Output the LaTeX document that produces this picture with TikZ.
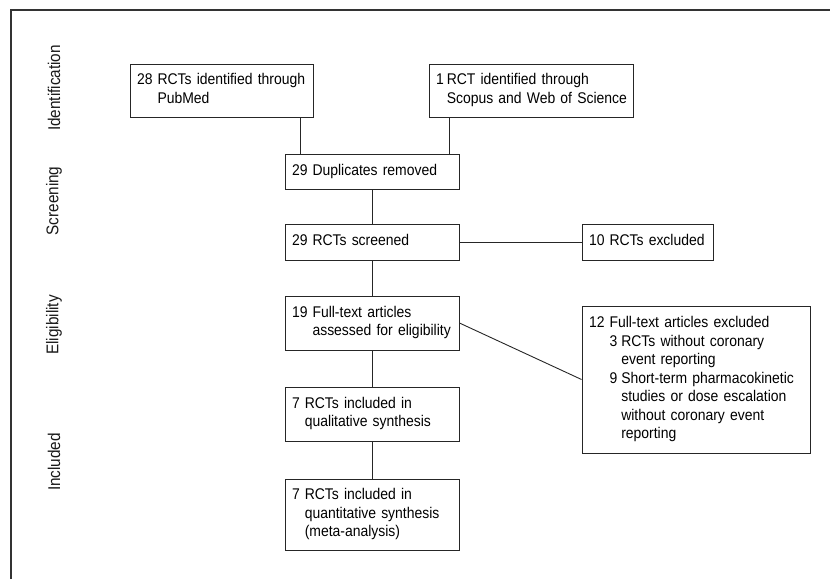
\documentclass[tikz,border=0pt]{standalone}
\usepackage{fontspec}
\setmainfont[FakeStretch=0.9]{Liberation Sans}
\begin{document}
\begin{tikzpicture}[x=1pt,y=-1pt,
  box/.style={draw=black!85, line width=0.9pt, inner xsep=7pt, inner ysep=3pt, align=left, anchor=center,
    font=\fontsize{15.5}{18.5}\selectfont, text=black},
  conn/.style={draw=black!85, line width=0.9pt},
  phase/.style={rotate=90, font=\fontsize{17}{20}\selectfont, text=black!90, anchor=center}]
\useasboundingbox (0,0) rectangle (830,579);
\draw[line width=1.2pt, black!80] (11,579) -- (11,10) -- (830,10);

\node[phase] (pid) at (54,88) {Identification};
\node[phase] (psc) at (54,201) {Screening};
\node[phase] (pel) at (54,325) {Eligibility};
\node[phase] (pin) at (54,462) {Included};

\node[box, text width=169pt, minimum height=53pt] (a) at (221.5,90.5)
  {\begin{tabular}{@{}l@{\hspace{5pt}}l@{}}28 & RCTs identified through\\ & PubMed\end{tabular}};
\node[box, text width=190pt, minimum height=53pt] (b) at (531,90.5)
  {\begin{tabular}{@{}l@{\hspace{3pt}}l@{}}1 & RCT identified through\\ & Scopus and Web of Science\end{tabular}};
\node[box, text width=160pt, minimum height=35pt] (c) at (372,171.5)
  {\begin{tabular}{@{}l@{\hspace{5pt}}l@{}}29 & Duplicates removed\end{tabular}};
\node[box, text width=160pt, minimum height=36pt] (d) at (372,242)
  {\begin{tabular}{@{}l@{\hspace{5pt}}l@{}}29 & RCTs screened\end{tabular}};
\node[box, text width=117pt, minimum height=36pt] (e) at (647.5,242)
  {\begin{tabular}{@{}l@{\hspace{5pt}}l@{}}10 & RCTs excluded\end{tabular}};
\node[box, text width=160pt, minimum height=54pt] (f) at (372,323)
  {\begin{tabular}{@{}l@{\hspace{5pt}}l@{}}19 & Full-text articles\\ & assessed for eligibility\end{tabular}};
\node[box, text width=214pt, minimum height=147pt] (g) at (696,379.5)
  {\begin{tabular}{@{}l@{\hspace{5pt}}l@{\hspace{4pt}}l@{}}12 & \multicolumn{2}{@{}l@{}}{Full-text articles excluded}\\
   & 3 & RCTs without coronary\\
   & & event reporting\\
   & 9 & Short-term pharmacokinetic\\
   & & studies or dose escalation\\
   & & without coronary event\\
   & & reporting\end{tabular}};
\node[box, text width=160pt, minimum height=54pt] (h) at (372,414)
  {\begin{tabular}{@{}l@{\hspace{5pt}}l@{}}7 & RCTs included in\\ & qualitative synthesis\end{tabular}};
\node[box, text width=160pt, minimum height=71pt] (i) at (372,514.5)
  {\begin{tabular}{@{}l@{\hspace{5pt}}l@{}}7 & RCTs included in\\ & quantitative synthesis\\ & (meta-analysis)\end{tabular}};

\coordinate (ax) at (300,0);
\coordinate (bx) at (449,0);
\draw[conn] (a.south -| ax) -- (c.north -| ax);
\draw[conn] (b.south -| bx) -- (c.north -| bx);
\draw[conn] (c.south) -- (d.north);
\draw[conn] (d.east) -- (e.west);
\draw[conn] (d.south) -- (f.north);
\draw[conn] (f.east) -- (g.west);
\draw[conn] (f.south) -- (h.north);
\draw[conn] (h.south) -- (i.north);
\end{tikzpicture}
\end{document}
